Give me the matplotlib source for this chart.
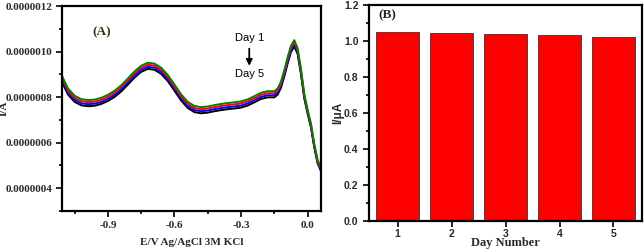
import numpy as np
import matplotlib
matplotlib.use("Agg")
import matplotlib.pyplot as plt
from matplotlib.ticker import MultipleLocator, FuncFormatter

# ---- data: panel A (potential in V, current in 1e-6 A) ----
potential = [-1.107, -1.08, -1.05, -1.02, -0.99, -0.96, -0.93, -0.90, -0.87, -0.84,
             -0.81, -0.78, -0.75, -0.72, -0.69, -0.66, -0.63, -0.60, -0.57, -0.54,
             -0.51, -0.48, -0.45, -0.42, -0.39, -0.36, -0.33, -0.30, -0.27, -0.24,
             -0.21, -0.18, -0.15, -0.135, -0.12, -0.105, -0.09, -0.075, -0.06, -0.045,
             -0.03, -0.015, 0.0, 0.015, 0.03, 0.045, 0.06]
day1_green = [0.893, 0.838, 0.806, 0.791, 0.787, 0.789, 0.797, 0.810, 0.828, 0.852,
              0.882, 0.913, 0.938, 0.951, 0.947, 0.929, 0.897, 0.855, 0.812, 0.779,
              0.761, 0.756, 0.759, 0.765, 0.770, 0.774, 0.777, 0.781, 0.790, 0.804,
              0.819, 0.826, 0.826, 0.838, 0.868, 0.918, 0.975, 1.025, 1.050, 1.015,
              0.925, 0.815, 0.745, 0.685, 0.595, 0.525, 0.490]
day2_red = [0.884, 0.829, 0.797, 0.782, 0.778, 0.780, 0.788, 0.801, 0.819, 0.843,
            0.873, 0.904, 0.929, 0.942, 0.938, 0.920, 0.888, 0.846, 0.803, 0.770,
            0.752, 0.747, 0.750, 0.756, 0.761, 0.765, 0.768, 0.772, 0.781, 0.795,
            0.810, 0.817, 0.817, 0.829, 0.859, 0.909, 0.966, 1.016, 1.040, 1.006,
            0.917, 0.808, 0.739, 0.679, 0.589, 0.519, 0.485]
day4_blue = [0.875, 0.820, 0.788, 0.773, 0.769, 0.771, 0.779, 0.792, 0.810, 0.834,
             0.864, 0.895, 0.920, 0.933, 0.929, 0.911, 0.879, 0.837, 0.794, 0.761,
             0.743, 0.738, 0.741, 0.747, 0.752, 0.756, 0.759, 0.763, 0.772, 0.786,
             0.801, 0.808, 0.808, 0.820, 0.850, 0.900, 0.957, 1.007, 1.030, 0.997,
             0.909, 0.801, 0.733, 0.673, 0.584, 0.514, 0.480]
day5_black = [0.866, 0.811, 0.779, 0.764, 0.760, 0.762, 0.770, 0.783, 0.801, 0.825,
              0.855, 0.886, 0.911, 0.924, 0.920, 0.902, 0.870, 0.828, 0.785, 0.752,
              0.734, 0.729, 0.732, 0.738, 0.743, 0.747, 0.750, 0.754, 0.763, 0.777,
              0.792, 0.799, 0.799, 0.811, 0.841, 0.891, 0.948, 0.998, 1.022, 0.990,
              0.902, 0.795, 0.728, 0.668, 0.580, 0.510, 0.476]

# ---- data: panel B ----
days = [1, 2, 3, 4, 5]
peak_current = [1.049, 1.045, 1.041, 1.034, 1.023]

SERIF = "Liberation Serif"
SANS = "Liberation Sans"

fig = plt.figure(figsize=(6.44, 2.5), dpi=100)

# ---------------- Panel A ----------------
axA = fig.add_axes([0.0963, 0.156, 0.402, 0.820])
x = np.array(potential)
for ys, c in [(day5_black, "black"), (day4_blue, "blue"), (day2_red, "red"), (day1_green, "green")]:
    axA.plot(x, np.array(ys) * 1e-6, color=c, lw=1.4, solid_joinstyle="round")

axA.set_xlim(-1.107, 0.06)
axA.set_ylim(0.3e-6, 1.2e-6)
axA.xaxis.set_major_locator(MultipleLocator(0.3))
axA.xaxis.set_minor_locator(MultipleLocator(0.15))
axA.yaxis.set_major_locator(MultipleLocator(0.2e-6))
axA.yaxis.set_minor_locator(MultipleLocator(0.1e-6))
axA.yaxis.set_major_formatter(FuncFormatter(lambda v, p: f"{v:.7f}"))
axA.xaxis.set_major_formatter(FuncFormatter(lambda v, p: f"{v:.1f}"))
axA.tick_params(which="both", direction="out", top=False, right=False, width=1.2)
axA.tick_params(which="major", length=4, pad=3)
axA.tick_params(which="minor", length=2.5)
for lab in axA.get_xticklabels() + axA.get_yticklabels():
    lab.set_fontfamily(SERIF)
    lab.set_fontweight("bold")
    lab.set_fontsize(8)
    lab.set_color("#2a2a2a")
for s in axA.spines.values():
    s.set_linewidth(1.6)
axA.set_xlabel("E/V Ag/AgCl 3M KCl", fontfamily=SERIF, fontweight="bold", fontsize=8, color="#2a2a2a", labelpad=6)
axA.set_ylabel("I/A", fontfamily=SERIF, fontweight="bold", fontsize=8, color="#2a2a2a")
axA.yaxis.set_label_coords(-0.205, 0.5)
axA.text(-0.93, 1.083e-6, "(A)", fontfamily=SERIF, fontweight="bold", fontsize=9.5,
         color="#3a2a10", ha="center", va="center")
axA.text(-0.263, 1.06e-6, "Day 1", fontfamily=SANS, fontsize=8, ha="center", va="center")
axA.text(-0.263, 0.90e-6, "Day 5", fontfamily=SANS, fontsize=8, ha="center", va="center")
axA.annotate("", xy=(-0.263, 0.925e-6), xytext=(-0.263, 1.025e-6),
             arrowprops=dict(arrowstyle="-|>", color="black", lw=1.3, mutation_scale=9))

# ---------------- Panel B ----------------
axB = fig.add_axes([0.573, 0.116, 0.424, 0.864])
axB.bar(days, peak_current, width=0.81, color="#ff0000", edgecolor="#444444", linewidth=0.7)
axB.set_xlim(0.47, 5.53)
axB.set_ylim(0, 1.2)
axB.xaxis.set_major_locator(MultipleLocator(1))
axB.yaxis.set_major_locator(MultipleLocator(0.2))
axB.yaxis.set_minor_locator(MultipleLocator(0.1))
axB.yaxis.set_major_formatter(FuncFormatter(lambda v, p: f"{v:.1f}"))
axB.tick_params(which="both", direction="out", top=False, right=False, width=1.2)
axB.tick_params(which="major", length=4)
axB.tick_params(axis="x", which="major", pad=1.5)
axB.tick_params(which="minor", length=2.5)
for lab in axB.get_xticklabels() + axB.get_yticklabels():
    lab.set_fontfamily(SANS)
    lab.set_fontweight("bold")
    lab.set_fontsize(7.5)
    lab.set_color("#2a2a2a")
for s in axB.spines.values():
    s.set_linewidth(1.6)
axB.set_xlabel("Day Number", fontfamily=SERIF, fontweight="bold", fontsize=9, color="#2a2a2a")
axB.xaxis.set_label_coords(0.5, -0.075)
axB.xaxis.label.set_va("top")
axB.set_ylabel("I/\u03bcA", fontfamily=SANS, fontweight="bold", fontsize=8.5, color="#2a2a2a")
axB.yaxis.set_label_coords(-0.09, 0.5)
axB.text(0.8, 1.144, "(B)", fontfamily=SERIF, fontweight="bold", fontsize=9.5,
         color="#222222", ha="center", va="center")

fig.savefig("out.png", dpi=100)
